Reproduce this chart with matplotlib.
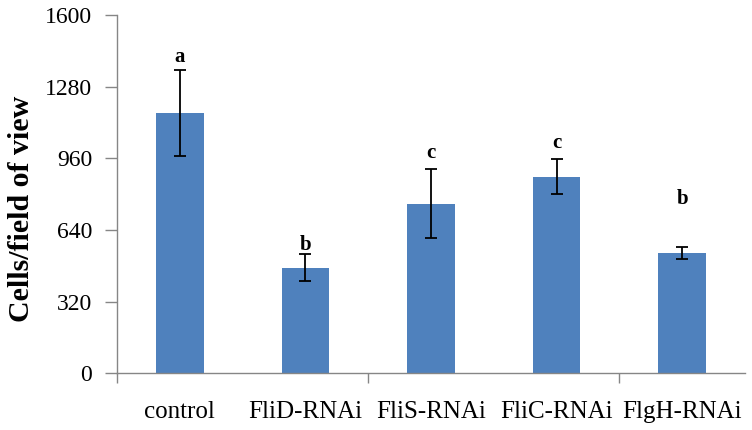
import matplotlib
matplotlib.use("Agg")
import matplotlib.pyplot as plt
from matplotlib.ticker import FixedLocator

categories = ["control", "FliD-RNAi", "FliS-RNAi", "FliC-RNAi", "FlgH-RNAi"]
values = [1162, 472, 758, 878, 538]
errors = [191, 60, 155, 78, 28]
letters = ["a", "b", "c", "c", "b"]
letter_y = [1412, 573, 984, 1028, 779]
yticks = [0, 320, 640, 960, 1280, 1600]

plt.rcParams['font.family'] = ['Liberation Serif', 'DejaVu Serif']

fig = plt.figure(figsize=(7.52, 4.30), dpi=100)
ax = fig.add_axes([0.1556, 0.1319, 0.8351, 0.8332])

x = list(range(len(categories)))
ax.bar(x, values, width=0.38, color="#4F81BD", zorder=2)
ax.errorbar(x, values, yerr=errors, fmt="none", ecolor="black", elinewidth=1.3,
            capsize=4, capthick=1.3, zorder=3)
for xi, t, ly in zip(x, letters, letter_y):
    ax.text(xi, ly, t, ha="center", va="center", fontsize=15, fontweight="bold")

ax.set_xlim(-0.5, 4.5)
ax.set_ylim(0, 1600)
ax.set_yticks(yticks)
ax.set_yticklabels([str(v) for v in yticks], fontsize=17)
ax.set_xticks(x)
ax.set_xticklabels(categories, fontsize=18)
ax.xaxis.set_minor_locator(FixedLocator([-0.5, 1.5, 3.5]))
ax.tick_params(axis="x", which="major", length=0, pad=20)
ax.tick_params(axis="x", which="minor", length=7, color="#868686", width=1)
ax.tick_params(axis="y", length=9, color="#868686", width=1, pad=9)

for s in ["top", "right"]:
    ax.spines[s].set_visible(False)
for s in ["left", "bottom"]:
    ax.spines[s].set_color("#868686")
    ax.spines[s].set_linewidth(1)

ax.set_ylabel("Cells/field of view", fontsize=21.5, fontweight="bold")
ax.yaxis.set_label_coords(-0.13, 0.46)

fig.savefig("out.png", dpi=100)
